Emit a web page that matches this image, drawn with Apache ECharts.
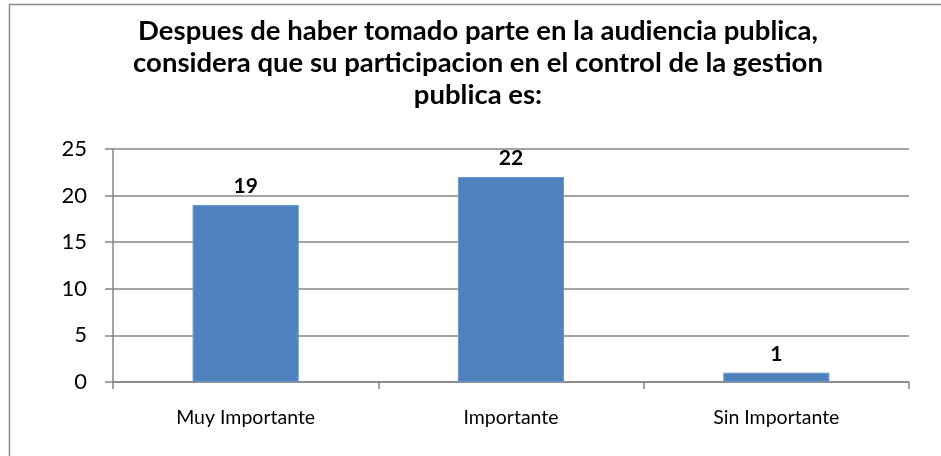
<!DOCTYPE html>
<html>
<head>
<meta charset="utf-8">
<script src="https://cdn.jsdelivr.net/npm/echarts@6/dist/echarts.min.js"></script>
<style>
  * { margin: 0; padding: 0; }
  html, body { width: 941px; height: 456px; background: #fff; overflow: hidden; }
  #grafico { width: 941px; height: 456px; }
</style>
</head>
<body>
<div id="grafico"></div>
<script>
// datos de la encuesta
var categorias = ["Muy Importante", "Importante", "Sin Importante"];
var respuestas = [19, 22, 1];
var titulo = "Despues de haber tomado parte en la audiencia publica,\nconsidera que su participacion en el control de la gestion\npublica es:";

var fuente = "Lato, 'Open Sans', sans-serif";
var chart = echarts.init(document.getElementById("grafico"));

chart.setOption({
  animation: false,
  title: {
    text: titulo,
    left: 473,
    top: 10,
    textAlign: "center",
    textStyle: {
      fontFamily: fuente,
      fontSize: 27.5,
      fontWeight: "bold",
      color: "#000",
      lineHeight: 32
    }
  },
  graphic: [
    {
      type: "rect",
      shape: { x: 9.5, y: 4.5, width: 1000, height: 1000 },
      style: { fill: "none", stroke: "#8c8c8c", lineWidth: 1.5 }
    }
  ],
  grid: {
    left: 113,
    right: 32,
    top: 149,
    bottom: 74
  },
  xAxis: {
    type: "category",
    data: categorias,
    axisLine: { lineStyle: { color: "#868686", width: 1.5 } },
    axisTick: { show: true, length: 7, lineStyle: { color: "#868686", width: 1.5 } },
    axisLabel: {
      margin: 26,
      color: "#000",
      fontFamily: fuente,
      fontSize: 19.5
    }
  },
  yAxis: {
    type: "value",
    min: 0,
    max: 25,
    interval: 5,
    axisLine: { show: true, lineStyle: { color: "#868686", width: 1.5 } },
    axisTick: { show: true, length: 8, lineStyle: { color: "#868686", width: 1.5 } },
    splitLine: { lineStyle: { color: "#868686", width: 1.5 } },
    axisLabel: {
      margin: 26,
      color: "#000",
      fontFamily: fuente,
      fontSize: 22
    }
  },
  series: [
    {
      name: "Respuestas",
      type: "bar",
      data: respuestas,
      barWidth: "40%",
      itemStyle: {
        color: "#4f81bd",
        borderColor: "#6a96cc",
        borderWidth: 1
      },
      label: {
        show: true,
        position: "top",
        distance: 8,
        color: "#000",
        fontFamily: fuente,
        fontSize: 21,
        fontWeight: "bold"
      }
    }
  ]
});
</script>
</body>
</html>
